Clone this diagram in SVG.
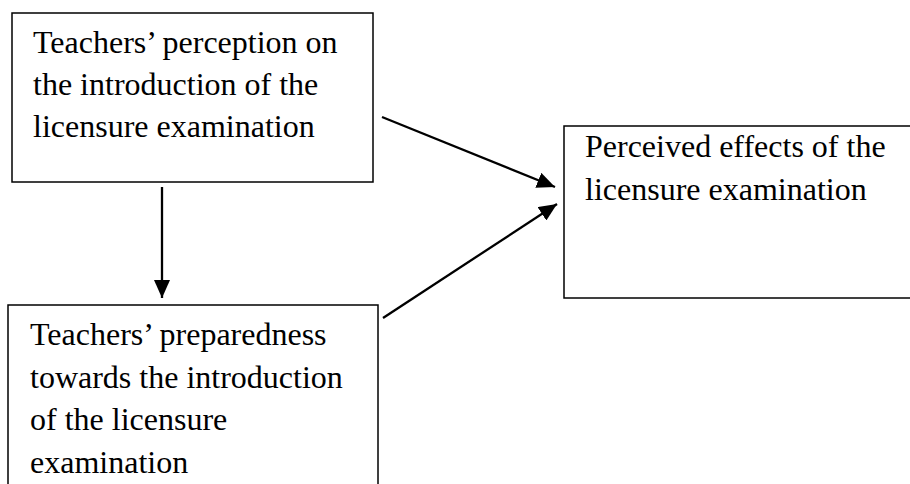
<svg xmlns="http://www.w3.org/2000/svg" width="910" height="484" viewBox="0 0 910 484">
<style>
  .box { fill: #ffffff; stroke: #000000; stroke-width: 1.5; }
  .lbl { font-family: "Liberation Serif", "Times New Roman", serif; font-size: 32px; fill: #000000; }
  .conn { stroke: #000000; stroke-width: 2.3; fill: none; marker-end: url(#arrow); }
</style>
<defs>
  <marker id="arrow" viewBox="0 0 18 16" refX="18" refY="8" markerWidth="18" markerHeight="16" markerUnits="userSpaceOnUse" orient="auto">
    <path d="M0,0 L18,8 L0,16 Z" fill="#000000"/>
  </marker>
</defs>
<rect width="910" height="484" fill="#ffffff"/>
<g id="node-perception">
  <rect class="box" x="12" y="13" width="361" height="169"/>
  <text class="lbl" x="33" y="53">Teachers’ perception on</text>
  <text class="lbl" x="33" y="95">the introduction of the</text>
  <text class="lbl" x="33" y="137">licensure examination</text>
</g>
<g id="node-preparedness">
  <rect class="box" x="8" y="305" width="370" height="200"/>
  <text class="lbl" x="30" y="345">Teachers’ preparedness</text>
  <text class="lbl" x="30" y="388">towards the introduction</text>
  <text class="lbl" x="30" y="430">of the licensure</text>
  <text class="lbl" x="30" y="473">examination</text>
</g>
<g id="node-effects">
  <rect class="box" x="564" y="126" width="360" height="172"/>
  <text class="lbl" x="585" y="157">Perceived effects of the</text>
  <text class="lbl" x="585" y="200">licensure examination</text>
</g>
<g id="connectors">
  <line class="conn" x1="162" y1="187" x2="162" y2="298"/>
  <line class="conn" x1="382" y1="117" x2="555" y2="187"/>
  <line class="conn" x1="383" y1="318" x2="557" y2="204"/>
</g>
</svg>
